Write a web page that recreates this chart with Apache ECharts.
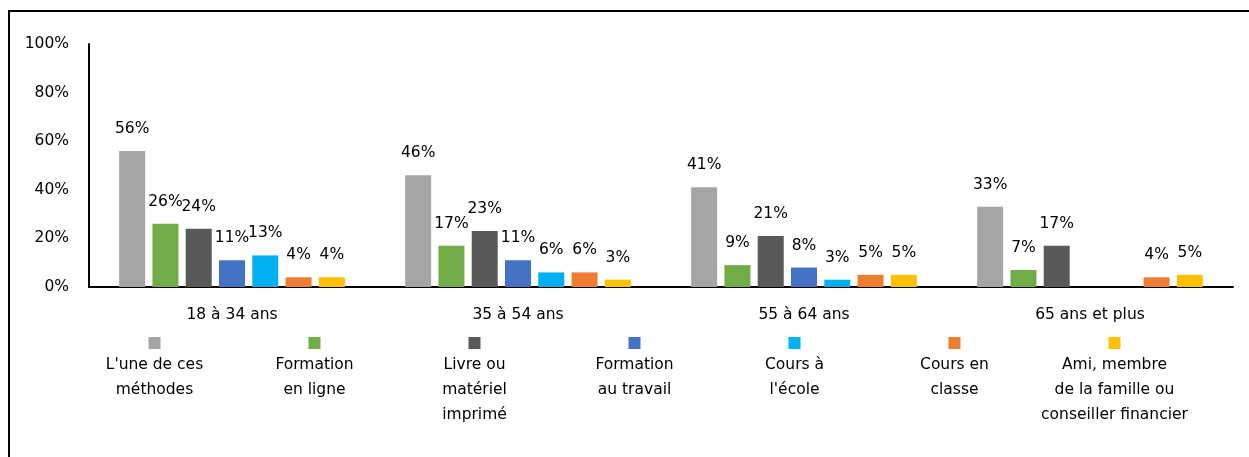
<!DOCTYPE html>
<html>
<head>
<meta charset="utf-8">
<script src="https://cdn.jsdelivr.net/npm/echarts@6/dist/echarts.min.js"></script>
<style>
html,body{margin:0;padding:0;background:#fff;}
#chart{width:1249px;height:457px;}
</style>
</head>
<body>
<div id="chart"></div>
<script>
// ---- data ----
const categories = ['18 à 34 ans', '35 à 54 ans', '55 à 64 ans', '65 ans et plus'];
const seriesNames = [
  "L'une de ces\nméthodes",
  'Formation\nen ligne',
  'Livre ou\nmatériel\nimprimé',
  'Formation\nau travail',
  "Cours à\nl'école",
  'Cours en\nclasse',
  'Ami, membre\nde la famille ou\nconseiller financier'
];
const uneDeCesMethodes   = [56, 46, 41, 33];
const formationEnLigne   = [26, 17, 9, 7];
const livreMateriel      = [24, 23, 21, 17];
const formationTravail   = [11, 11, 8, null];
const coursEcole         = [13, 6, 3, null];
const coursClasse        = [4, 6, 5, 4];
const amiFamille         = [4, 3, 5, 5];
const yTicks = [0, 20, 40, 60, 80, 100];

const seriesValues = [uneDeCesMethodes, formationEnLigne, livreMateriel, formationTravail, coursEcole, coursClasse, amiFamille];
const colors = ['#A5A5A5', '#70AD47', '#595959', '#4472C4', '#00B0F0', '#ED7D31', '#FFC000'];

const FONT = '"DejaVu Sans"';
const FS = 15.5;
const rich = { t: { fontFamily: FONT, fontSize: FS, color: '#000', lineHeight: 25, align: 'center', width: 155 } };
colors.forEach((c, i) => {
  rich['sq' + i] = { backgroundColor: c, width: 12, height: 12, lineHeight: 19, align: 'center' };
});

const chart = echarts.init(document.getElementById('chart'), null, { renderer: 'canvas' });
chart.setOption({
  animation: false,
  color: colors,
  textStyle: { fontFamily: FONT },
  graphic: [{
    type: 'rect', silent: true, z: -1,
    shape: { x: 9, y: 11, width: 1300, height: 500 },
    style: { fill: 'none', stroke: '#000', lineWidth: 2 }
  }],
  grid: { left: 89, right: 16, top: 44, bottom: 170, containLabel: false },
  legend: {
    left: 72, top: 337, padding: 0, itemGap: 0, itemWidth: 0, itemHeight: 0,
    selectedMode: false,
    data: seriesNames,
    formatter: function (name) {
      const i = seriesNames.indexOf(name);
      const lines = name.split('\n');
      while (lines.length < 3) lines.push(' ');
      return '{sq' + i + '|}\n' + lines.map(l => '{t|' + l + '}').join('\n');
    },
    textStyle: { width: 155, rich: rich }
  },
  xAxis: {
    type: 'category', data: categories,
    axisLine: { lineStyle: { color: '#000', width: 2 } },
    axisTick: { show: false },
    axisLabel: { color: '#000', fontSize: FS, fontFamily: FONT, margin: 20 }
  },
  yAxis: {
    type: 'value', min: yTicks[0], max: yTicks[yTicks.length - 1], interval: 20,
    splitLine: { show: false },
    axisLine: { show: true, lineStyle: { color: '#000', width: 2 } },
    axisTick: { show: false },
    axisLabel: { color: '#000', fontSize: FS, fontFamily: FONT, margin: 20, formatter: '{value}%' }
  },
  series: seriesValues.map((vals, i) => ({
    name: seriesNames[i],
    type: 'bar',
    data: vals,
    barWidth: 26,
    barGap: '28%',
    label: {
      show: true, position: 'top', distance: 14,
      color: '#000', fontSize: FS, fontFamily: FONT,
      formatter: p => (p.value == null ? '' : p.value + '%')
    }
  }))
});
</script>
</body>
</html>
